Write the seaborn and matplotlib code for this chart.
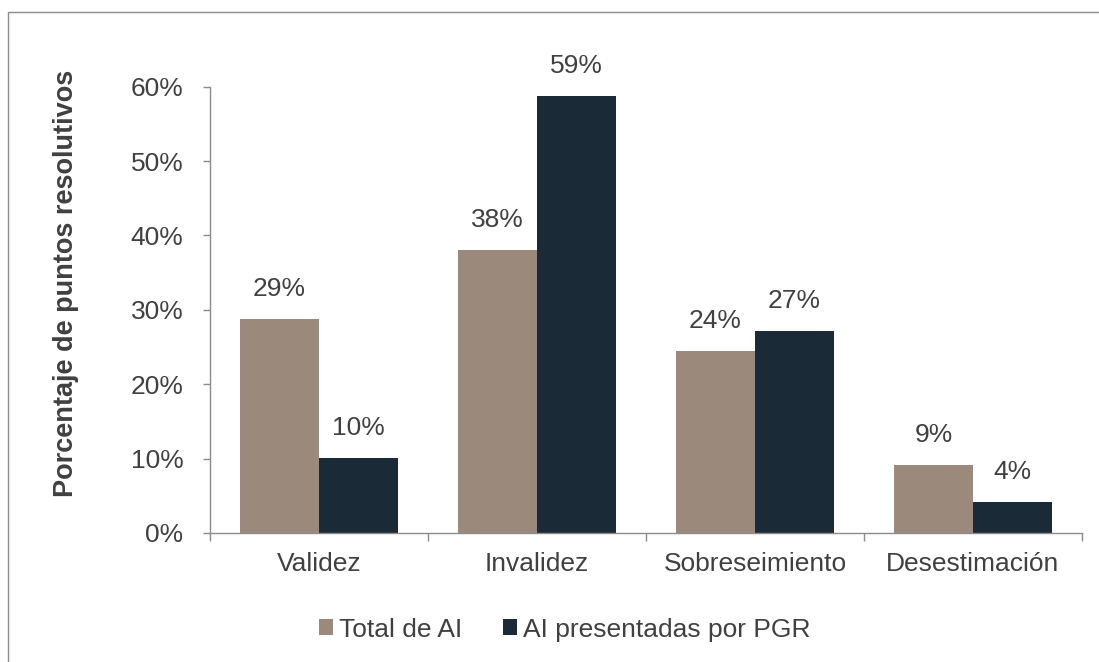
import matplotlib
matplotlib.use("Agg")
import matplotlib.pyplot as plt
import seaborn as sns
import pandas as pd
from matplotlib.patches import Rectangle
from matplotlib.ticker import FixedLocator, PercentFormatter

categories = ["Validez", "Invalidez", "Sobreseimiento", "Desestimación"]
series_names = ["Total de AI", "AI presentadas por PGR"]
total_ai = [28.7, 38.0, 24.4, 9.1]
pgr_ai = [10.1, 58.7, 27.2, 4.2]
labels_total = ["29%", "38%", "24%", "9%"]
labels_pgr = ["10%", "59%", "27%", "4%"]
colors = ["#9B8A7B", "#1B2A37"]

df = pd.DataFrame({
    "cat": categories * 2,
    "serie": [series_names[0]] * 4 + [series_names[1]] * 4,
    "val": total_ai + pgr_ai,
})

sns.set_style("white")
plt.rcParams["font.family"] = ["Liberation Sans", "DejaVu Sans"]
txt = "#404040"
fs = 19

fig = plt.figure(figsize=(10.99, 6.62), dpi=100)
ax = fig.add_axes([0.191, 0.195, 0.7935, 0.674])
sns.barplot(data=df, x="cat", y="val", hue="serie", palette=colors,
            width=0.725, ax=ax, saturation=1, legend=True, linewidth=0)

ax.set_ylim(0, 60)
ax.set_xlim(-0.5, 3.5)
ax.yaxis.set_major_locator(FixedLocator([0, 10, 20, 30, 40, 50, 60]))
ax.yaxis.set_major_formatter(PercentFormatter(decimals=0))
ax.set_xlabel("")
ax.set_ylabel("Porcentaje de puntos resolutivos", fontsize=19.5, fontweight="bold",
              color=txt)
ax.yaxis.set_label_coords(-0.150, 0.56)

for s in ["top", "right"]:
    ax.spines[s].set_visible(False)
for s in ["left", "bottom"]:
    ax.spines[s].set_color("#8C8C8C")
    ax.spines[s].set_linewidth(1.0)

ax.tick_params(axis="y", which="major", direction="out", length=5, width=1,
               color="#8C8C8C", labelsize=fs, labelcolor=txt, left=True, pad=14)
ax.tick_params(axis="x", which="major", length=0, labelsize=fs, labelcolor=txt, pad=14)
ax.xaxis.set_minor_locator(FixedLocator([-0.5, 0.5, 1.5, 2.5, 3.5]))
ax.tick_params(axis="x", which="minor", direction="out", length=6, width=1,
               color="#8C8C8C", bottom=True)

for cont, labs in zip(ax.containers, [labels_total, labels_pgr]):
    ax.bar_label(cont, labels=labs, padding=13, fontsize=fs, color=txt)

handles, lbls = ax.get_legend_handles_labels()
ax.legend(handles, lbls, loc="center", bbox_to_anchor=(0.514, 0.049),
          bbox_transform=fig.transFigure, ncol=2, frameon=False, fontsize=fs,
          handlelength=0.53, handleheight=0.53, handletextpad=0.23,
          columnspacing=1.55, labelcolor=txt, borderpad=0, borderaxespad=0)

fig.patches.append(Rectangle((8 / 1099, -0.1), 1.2, 1.1 - 12 / 662,
                             transform=fig.transFigure, fill=False,
                             edgecolor="#8C8C8C", linewidth=1.0))

fig.savefig("out.png", dpi=100)
